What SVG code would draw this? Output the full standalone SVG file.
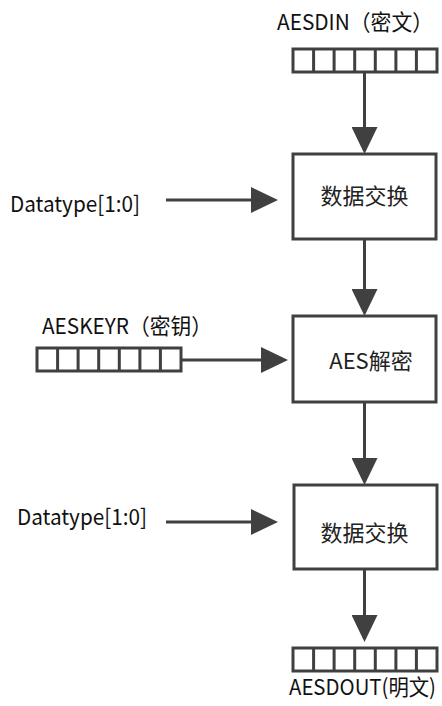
<svg xmlns="http://www.w3.org/2000/svg" xmlns:xlink="http://www.w3.org/1999/xlink" width="442" height="706" viewBox="0 0 442 706">
<style>
.box{fill:#fff;stroke:#404040;stroke-width:3}
.reg{fill:#fff;stroke:#404040;stroke-width:3}
.div{stroke:#404040;stroke-width:3}
.con{stroke:#404040;stroke-width:3;fill:none;marker-end:url(#ah)}
.t{font-family:"Noto Sans CJK SC","Liberation Sans",sans-serif;font-size:22px;fill:#111}
.c{font-family:"Noto Sans CJK SC","Liberation Sans",sans-serif;font-size:22px;fill:#222;text-anchor:middle}
</style>
<defs>
<marker id="ah" markerUnits="userSpaceOnUse" markerWidth="27" markerHeight="26" refX="17" refY="13" orient="auto" viewBox="0 0 27 26">
<path d="M0,0 L27,13 L0,26 Z" fill="#404040"/>
</marker>
<g id="register">
<rect class="reg" x="0" y="0" width="144" height="23"/>
<path class="div" d="M20.6,0V23M41.1,0V23M61.7,0V23M82.3,0V23M102.9,0V23M123.4,0V23"/>
</g>
</defs>
<rect width="442" height="706" fill="#fff"/>
<g id="connectors">
<line class="con" x1="364.5" y1="72" x2="364.5" y2="144"/>
<line class="con" x1="364.5" y1="239" x2="364.5" y2="306"/>
<line class="con" x1="364.5" y1="402" x2="364.5" y2="475"/>
<line class="con" x1="364.5" y1="569" x2="364.5" y2="632"/>
<line class="con" x1="166" y1="200" x2="268" y2="200"/>
<line class="con" x1="180" y1="360" x2="278" y2="360"/>
<line class="con" x1="166" y1="522" x2="268" y2="522"/>
</g>
<g id="aesdin">
<use xlink:href="#register" x="293" y="49"/>
<text class="t" x="277" y="30" textLength="156" lengthAdjust="spacingAndGlyphs">AESDIN（密文）</text>
</g>
<g id="swap1">
<rect class="box" x="293" y="154" width="143" height="85"/>
<text class="c" x="364.5" y="204">数据交换</text>
</g>
<g id="datatype1">
<text class="t" x="10" y="212" textLength="130" lengthAdjust="spacingAndGlyphs">Datatype[1:0]</text>
</g>
<g id="aeskeyr">
<use xlink:href="#register" x="37" y="348"/>
<text class="t" x="42" y="334" textLength="170" lengthAdjust="spacingAndGlyphs">AESKEYR（密钥）</text>
</g>
<g id="aesdec">
<rect class="box" x="293" y="316" width="143" height="86"/>
<text class="c" x="371" y="369">AES解密</text>
</g>
<g id="datatype2">
<text class="t" x="17" y="525" textLength="130" lengthAdjust="spacingAndGlyphs">Datatype[1:0]</text>
</g>
<g id="swap2">
<rect class="box" x="294" y="485" width="143" height="84"/>
<text class="c" x="364.5" y="541">数据交换</text>
</g>
<g id="aesdout">
<use xlink:href="#register" x="293" y="648"/>
<text class="t" x="289" y="695" font-size="20" textLength="147" lengthAdjust="spacingAndGlyphs">AESDOUT(明文)</text>
</g>
</svg>
